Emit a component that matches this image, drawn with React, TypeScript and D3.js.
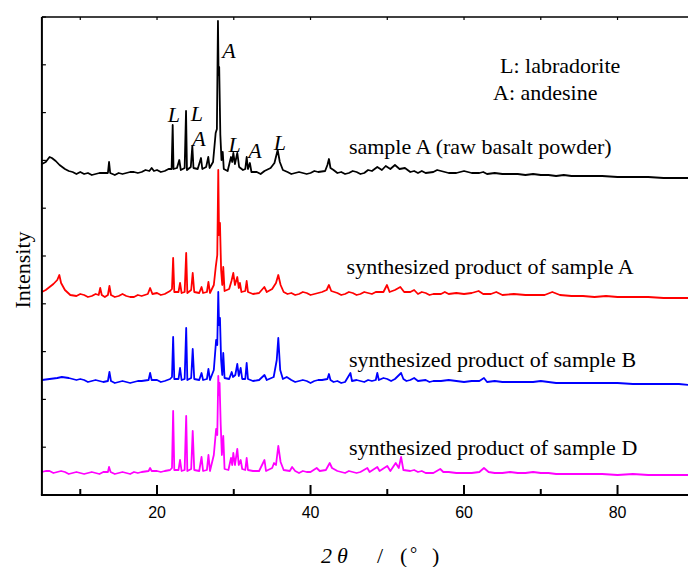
import React from "react";
import * as d3 from "d3";

// 2θ (°) vs intensity (a.u., already offset/stacked as in the original plot)
const rawBasalt: [number, number][] = [
  [5, 331], [5.5, 333], [6.0, 338], [6.3, 337], [6.8, 334], [7.3, 330], [8, 326], [8.5, 324], [9, 323], [9.5, 321], [10, 323], [10.5, 321], [11, 322], [11.5, 320], [12, 321], [12.5, 322], [13, 322], [13.6, 322], [13.75, 333], [13.9, 322], [14.5, 320], [15, 322], [15.5, 321], [16, 322], [16.5, 323], [17, 323], [17.5, 322], [18, 323], [18.5, 325], [19, 324], [19.3, 327], [19.6, 324], [20, 325], [20.5, 323], [21, 324], [21.5, 326], [21.9, 326], [22.04, 370], [22.15, 326], [22.6, 327], [22.9, 335], [23.1, 325], [23.6, 327], [23.78, 384], [23.9, 325], [24.4, 328], [24.6, 349], [24.75, 327], [25.3, 326], [25.73, 337], [25.9, 326], [26.4, 328], [26.68, 338], [26.85, 327], [27.3, 333], [27.64, 362], [27.8, 366], [27.94, 474], [28.02, 420], [28.1, 428], [28.25, 360], [28.4, 335], [28.56, 343], [28.7, 326], [29.2, 324], [29.45, 332], [29.64, 338], [29.8, 333], [29.94, 342], [30.15, 331], [30.46, 342], [30.7, 328], [31.2, 325], [31.5, 326], [31.68, 338], [31.85, 326], [32.1, 332], [32.3, 323], [33, 323], [33.5, 321], [34, 324], [34.8, 327], [35.3, 332], [35.72, 345], [36.0, 333], [36.4, 325], [37, 323], [37.5, 321], [38, 322], [38.5, 323], [39, 322], [39.5, 321], [40, 322], [40.5, 324], [41, 323], [41.9, 324], [42.2, 330], [42.4, 336], [42.6, 327], [43, 325], [43.5, 322], [44, 323], [44.5, 321], [45, 322], [45.5, 324], [46, 323], [46.5, 321], [47, 322], [47.5, 325], [48, 324], [48.7, 328], [49.3, 325], [49.8, 329], [50.4, 326], [51, 330], [51.6, 326], [52.3, 327], [53, 323], [53.5, 324], [54, 322], [54.5, 324], [55, 322], [56, 323], [56.5, 325], [57, 324], [58, 322], [59, 322], [60, 324], [61, 322], [62, 322], [62.5, 323], [63, 321], [64, 322], [65, 321], [66, 321], [67, 321], [68, 320], [69, 321], [70, 320], [71, 320], [72, 319], [73, 320], [74, 319], [75, 319], [76, 319], [78, 319], [80, 318], [82, 318], [84, 318], [86, 317], [88, 317], [89.3, 317],
];

const productA: [number, number][] = [
  [5, 203], [5.5, 205], [6, 208], [6.5, 211], [7.0, 215], [7.27, 220], [7.5, 212], [8, 205], [8.7, 200], [9.5, 199], [10, 201], [10.5, 200], [11, 198], [11.5, 199], [12, 201], [12.4, 200], [12.6, 207], [12.8, 200], [13.2, 198], [13.6, 200], [13.8, 209], [14.0, 200], [14.5, 198], [15, 199], [15.5, 201], [16, 199], [16.5, 198], [17, 198], [17.5, 200], [18, 199], [18.8, 201], [19.1, 207], [19.4, 201], [20, 202], [20.5, 200], [21, 201], [21.7, 204], [21.95, 206], [22.1, 237], [22.25, 203], [22.8, 203], [23.0, 212], [23.2, 202], [23.6, 203], [23.8, 242], [23.95, 202], [24.45, 205], [24.65, 222], [24.85, 203], [25.5, 202], [25.8, 208], [26.0, 202], [26.5, 203], [26.7, 213], [26.9, 202], [27.4, 210], [27.65, 228], [27.85, 240], [27.98, 325], [28.08, 260], [28.2, 272], [28.35, 225], [28.5, 210], [28.63, 228], [28.8, 204], [29.4, 206], [29.7, 214], [29.94, 222], [30.15, 210], [30.46, 218], [30.65, 207], [30.8, 212], [31.0, 203], [31.5, 204], [31.68, 214], [31.85, 203], [32.5, 201], [33.3, 202], [33.98, 208], [34.3, 203], [35.0, 206], [35.5, 212], [35.8, 220], [36.1, 210], [36.5, 203], [37, 201], [37.5, 202], [38, 200], [38.5, 201], [39, 203], [39.5, 202], [40, 200], [40.5, 201], [41, 202], [41.5, 203], [42.1, 205], [42.4, 210], [42.7, 204], [43.5, 202], [44, 200], [44.5, 201], [45, 203], [45.5, 202], [46, 200], [46.5, 201], [47, 203], [47.5, 202], [48, 201], [48.5, 203], [49.5, 203], [49.96, 210], [50.3, 203], [51, 205], [51.7, 208], [52.2, 203], [53, 203], [53.5, 205], [54, 201], [54.5, 203], [55, 202], [55.5, 200], [56, 201], [57, 201], [57.5, 203], [58, 201], [59, 202], [60, 201], [61, 202], [61.9, 204], [62.5, 201], [63.5, 201], [64.2, 203], [65, 200], [66.5, 201], [68, 200], [69.5, 200], [70.5, 200], [71.5, 203], [72.5, 200], [74, 199], [75.5, 199], [77, 198], [78.5, 199], [80, 198], [82, 198], [84, 198], [86, 197], [88, 197], [89.3, 197],
];

const productB: [number, number][] = [
  [5, 115], [6, 116], [7, 117], [7.6, 118], [8.5, 117], [9.5, 115], [10, 116], [10.5, 115], [11, 113], [11.5, 114], [12, 115], [12.5, 114], [13, 113], [13.6, 114], [13.8, 123], [14.0, 114], [14.5, 112], [15, 113], [15.5, 114], [16, 113], [16.5, 112], [17, 113], [17.5, 114], [18, 114], [18.9, 115], [19.1, 122], [19.3, 115], [20, 115], [20.5, 113], [21, 114], [21.7, 116], [21.95, 118], [22.1, 158], [22.25, 116], [22.8, 116], [23.0, 127], [23.2, 115], [23.6, 116], [23.8, 167], [23.95, 115], [24.45, 117], [24.65, 146], [24.85, 116], [25.5, 115], [25.8, 122], [26.0, 115], [26.5, 116], [26.7, 126], [26.9, 115], [27.4, 125], [27.7, 155], [27.85, 150], [27.98, 203], [28.08, 170], [28.2, 177], [28.35, 135], [28.5, 120], [28.63, 142], [28.8, 117], [29.4, 116], [29.73, 123], [29.9, 118], [30.2, 120], [30.46, 131], [30.65, 119], [30.9, 127], [31.1, 116], [31.5, 116], [31.68, 132], [31.85, 116], [32.5, 114], [33.3, 115], [34, 120], [34.3, 115], [35.2, 118], [35.6, 135], [35.8, 157], [36.05, 125], [36.4, 116], [36.9, 118], [37.5, 115], [38, 113], [38.5, 114], [39, 115], [39.5, 114], [40, 112], [40.5, 114], [41, 115], [41.5, 115], [42.2, 116], [42.4, 121], [42.6, 115], [43, 113], [43.5, 114], [44, 112], [44.5, 113], [45.2, 122], [45.4, 114], [46, 115], [46.5, 114], [47, 113], [47.5, 115], [48, 114], [48.5, 115], [48.7, 122], [48.9, 115], [49.5, 117], [50, 116], [50.5, 114], [51, 116], [51.8, 122], [52.1, 116], [52.5, 114], [53, 115], [53.5, 117], [54, 114], [55, 115], [55.5, 113], [56, 114], [57, 114], [58, 115], [59, 114], [60, 113], [61, 114], [62, 114], [62.6, 117], [63, 113], [64, 114], [65, 113], [66, 113], [67, 113], [68, 113], [69, 113], [70, 114], [72, 112], [74, 112], [76, 112], [78, 112], [80, 112], [82, 111], [84, 111], [86, 111], [88, 111], [89.3, 110],
];

const productD: [number, number][] = [
  [5, 23], [5.5, 24], [6, 24], [6.5, 22], [7, 23], [7.5, 24], [8, 23], [8.5, 21], [9, 22], [9.5, 23], [10, 22], [10.5, 21], [11, 22], [11.5, 23], [12, 22], [12.5, 21], [13, 23], [13.6, 23], [13.75, 28], [13.95, 23], [14.5, 21], [15, 22], [15.5, 23], [16, 22], [16.5, 21], [17, 23], [17.5, 22], [18, 23], [18.9, 24], [19.1, 27], [19.3, 24], [20, 24], [20.5, 23], [21, 24], [21.7, 25], [21.95, 27], [22.1, 84], [22.25, 25], [22.8, 25], [23.0, 35], [23.2, 24], [23.6, 25], [23.8, 79], [23.95, 24], [24.45, 26], [24.65, 64], [24.85, 25], [25.5, 24], [25.8, 38], [26.0, 24], [26.5, 25], [26.7, 40], [26.9, 24], [27.4, 40], [27.7, 66], [27.85, 60], [27.98, 119], [28.08, 100], [28.15, 112], [28.3, 70], [28.45, 40], [28.63, 59], [28.8, 26], [29.3, 25], [29.64, 37], [29.8, 30], [29.94, 42], [30.15, 30], [30.46, 46], [30.65, 30], [30.9, 35], [31.1, 26], [31.5, 25], [31.68, 37], [31.85, 25], [32.5, 24], [33.3, 24], [34, 35], [34.2, 24], [35.0, 27], [35.25, 32], [35.5, 30], [35.8, 49], [36.1, 33], [36.5, 25], [37.3, 24], [37.6, 28], [38, 24], [38.5, 22], [39, 24], [39.5, 23], [40, 23], [40.8, 27], [41.2, 24], [42.0, 25], [42.5, 32], [42.8, 27], [43.5, 24], [44, 23], [44.5, 22], [45, 24], [45.5, 23], [46, 22], [46.5, 23], [47.4, 27], [47.7, 23], [48.7, 28], [49, 24], [50, 29], [50.4, 24], [51.1, 32], [51.5, 27], [51.8, 38], [52.1, 25], [53, 24], [53.5, 25], [54, 23], [54.5, 24], [55, 22], [56, 22], [56.9, 26], [57.3, 23], [58, 23], [59, 22], [60, 22], [61, 22], [62, 23], [62.6, 27], [63.2, 23], [64, 22], [65, 22], [66, 23], [67, 22], [68, 22], [69, 23], [70, 22], [71, 22], [72, 21], [74, 21], [76, 21], [78, 21], [80, 20], [82, 21], [84, 20], [86, 20], [88, 20], [89.3, 20],
];

const seriesList = [rawBasalt, productA, productB, productD];
const seriesColors = ["#000000", "#ff0000", "#0000ff", "#ff00ff"];
const seriesNames = [
  "sample A (raw basalt powder)",
  "synthesized product of sample A",
  "synthesized product of sample B",
  "synthesized product of sample D",
];
// label anchor: [2θ, intensity] of label baseline start
const seriesLabelPos: [number, number][] = [
  [45.0, 341],
  [44.7, 221],
  [45.0, 128],
  [45.0, 40],
];

const majorTicks = [20, 40, 60, 80];
const minorTicks = [10, 30, 50, 70, 90];
const phaseLabels: { text: string; x: number; y: number }[] = [
  { text: "L", x: 21.4, y: 373 },
  { text: "L", x: 24.4, y: 374 },
  { text: "A", x: 24.6, y: 349 },
  { text: "A", x: 28.5, y: 437 },
  { text: "L", x: 29.3, y: 343 },
  { text: "A", x: 31.9, y: 337 },
  { text: "L", x: 35.2, y: 345 },
];
const legendLines = ["L: labradorite", "A: andesine"];

const W = 688;
const H = 567;
const left = 41.9;
const top = 17;
const bottom = 495;

export default function App() {
  const x = d3.scaleLinear().domain([5, 90]).range([left, left + 85 * 7.675]);
  const y = d3.scaleLinear().domain([0, 478]).range([bottom, top]);
  const line = d3
    .line<[number, number]>()
    .x((d) => x(d[0]))
    .y((d) => y(d[1]));
  const yTicks = d3.range(0, 11).map((i) => (478 / 10) * i);
  const allTop = d3.range(10, 91, 10);
  const serif = "'Liberation Serif', 'Times New Roman', serif";

  return (
    <svg
      width={W}
      height={H}
      style={{ position: "absolute", left: 0, top: 0, background: "#fff" }}
    >
      <defs>
        <clipPath id="plot">
          <rect x={left} y={top} width={W - left} height={bottom - top} />
        </clipPath>
      </defs>
      <rect x={0} y={0} width={W} height={H} fill="#fff" />
      <g clipPath="url(#plot)">
        {seriesList.map((s, i) => (
          <path
            key={i}
            d={line(s) || ""}
            fill="none"
            stroke={seriesColors[i]}
            strokeWidth={1.8}
            strokeLinejoin="round"
          />
        ))}
      </g>
      {/* frame */}
      <line x1={left} x2={W} y1={top} y2={top} stroke="#000" strokeWidth={1.3} />
      <line x1={left} x2={left} y1={top} y2={bottom} stroke="#000" strokeWidth={2} />
      <line x1={left - 1} x2={W} y1={bottom} y2={bottom} stroke="#000" strokeWidth={2} />
      {yTicks.map((t, i) => (
        <line key={i} x1={left} x2={left + 4} y1={y(t)} y2={y(t)} stroke="#000" strokeWidth={1.2} />
      ))}
      {allTop.map((t) => (
        <line key={t} x1={x(t)} x2={x(t)} y1={top} y2={top + 3} stroke="#000" strokeWidth={1.2} />
      ))}
      {majorTicks.map((t) => (
        <g key={t}>
          <line x1={x(t)} x2={x(t)} y1={bottom} y2={bottom - 10} stroke="#000" strokeWidth={2} />
          <text
            x={x(t)}
            y={518}
            textAnchor="middle"
            fontFamily="'Liberation Sans', Arial, sans-serif"
            fontSize={16}
            fill="#000"
          >
            {t}
          </text>
        </g>
      ))}
      {minorTicks.map((t) => (
        <line key={t} x1={x(t)} x2={x(t)} y1={bottom} y2={bottom - 6} stroke="#000" strokeWidth={2} />
      ))}
      {/* phase labels */}
      {phaseLabels.map((p, i) => (
        <text key={i} x={x(p.x)} y={y(p.y)} fontFamily={serif} fontStyle="italic" fontSize={22} fill="#000">
          {p.text}
        </text>
      ))}
      {/* legend */}
      <text x={500} y={73} fontFamily={serif} fontSize={22} fill="#000">
        {legendLines[0]}
      </text>
      <text x={493} y={100} fontFamily={serif} fontSize={22} fill="#000">
        {legendLines[1]}
      </text>
      {seriesNames.map((n, i) => (
        <text
          key={i}
          x={x(seriesLabelPos[i][0])}
          y={y(seriesLabelPos[i][1])}
          fontFamily={serif}
          fontSize={22}
          fill="#000"
        >
          {n}
        </text>
      ))}
      {/* axis titles */}
      <text
        transform="translate(30,270) rotate(-90)"
        textAnchor="middle"
        fontFamily={serif}
        fontSize={22}
        fill="#000"
      >
        Intensity
      </text>
      <g fontFamily={serif} fontSize={22} fill="#000">
        <text x={321} y={563} fontStyle="italic">2</text>
        <text x={337} y={563} fontStyle="italic">θ</text>
        <text x={377} y={563}>/</text>
        <text x={400} y={563}>(</text>
        <text x={410} y={560} fontSize={18}>°</text>
        <text x={432} y={563}>)</text>
      </g>
    </svg>
  );
}
